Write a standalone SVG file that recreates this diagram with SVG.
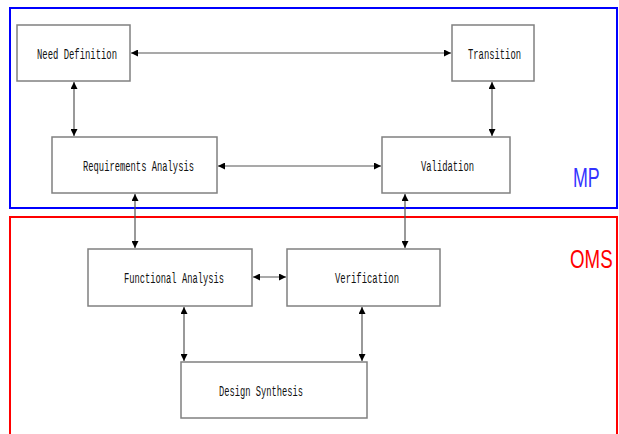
<svg xmlns="http://www.w3.org/2000/svg" width="619" height="434" viewBox="0 0 619 434">
<style>
.box{fill:#fff;stroke:#808080;stroke-width:1.5}
.lbl{font-family:"Liberation Mono","DejaVu Sans Mono",monospace;font-size:14px;fill:#111}
.con{stroke:#555;stroke-width:1.2;fill:none;marker-start:url(#ah);marker-end:url(#ah)}
.grp{font-family:"Liberation Sans",Arial,sans-serif}
</style>
<defs>
<marker id="ah" viewBox="0 0 10 10" refX="10" refY="5" markerWidth="8" markerHeight="7" markerUnits="userSpaceOnUse" orient="auto-start-reverse">
<path d="M0,0 L10,5 L0,10 z" fill="#000"/>
</marker>
</defs>
<rect x="0" y="0" width="619" height="434" fill="#fff"/>
<rect id="MP" x="10" y="8" width="607" height="200" fill="none" stroke="#0000ff" stroke-width="2"/>
<text class="grp" transform="translate(573,187) scale(0.66,1)" font-size="27" fill="#3333ff">MP</text>
<path id="OMS" d="M10,436 V217 H617 V436" fill="none" stroke="#ff0000" stroke-width="2"/>
<text class="grp" transform="translate(570,268) scale(0.72,1)" font-size="26" fill="#ff0000">OMS</text>
<g id="connectors">
<line class="con" x1="131" y1="53" x2="451" y2="53"/>
<line class="con" x1="74" y1="82" x2="74" y2="136"/>
<line class="con" x1="492" y1="82" x2="492" y2="136"/>
<line class="con" x1="218" y1="166" x2="381" y2="166"/>
<line class="con" x1="135" y1="194" x2="135" y2="248"/>
<line class="con" x1="405" y1="194" x2="405" y2="248"/>
<line class="con" x1="253" y1="277" x2="286" y2="277"/>
<line class="con" x1="184" y1="307" x2="184" y2="361"/>
<line class="con" x1="362" y1="307" x2="362" y2="361"/>
</g>
<g id="need-definition"><rect class="box" x="17" y="25" width="113" height="56"/><text class="lbl" x="37" y="59" textLength="80" lengthAdjust="spacingAndGlyphs">Need Definition</text></g>
<g id="transition"><rect class="box" x="452" y="25" width="82" height="56"/><text class="lbl" x="468" y="59" textLength="53" lengthAdjust="spacingAndGlyphs">Transition</text></g>
<g id="requirements-analysis"><rect class="box" x="52" y="137" width="165" height="56"/><text class="lbl" x="83" y="171" textLength="111" lengthAdjust="spacingAndGlyphs">Requirements Analysis</text></g>
<g id="validation"><rect class="box" x="382" y="137" width="128" height="56"/><text class="lbl" x="421" y="171" textLength="53" lengthAdjust="spacingAndGlyphs">Validation</text></g>
<g id="functional-analysis"><rect class="box" x="88" y="249" width="164" height="57"/><text class="lbl" x="124" y="283" textLength="100" lengthAdjust="spacingAndGlyphs">Functional Analysis</text></g>
<g id="verification"><rect class="box" x="287" y="249" width="153" height="57"/><text class="lbl" x="335" y="283" textLength="64" lengthAdjust="spacingAndGlyphs">Verification</text></g>
<g id="design-synthesis"><rect class="box" x="181" y="362" width="186" height="56"/><text class="lbl" x="219" y="396" textLength="84" lengthAdjust="spacingAndGlyphs">Design Synthesis</text></g>
</svg>
